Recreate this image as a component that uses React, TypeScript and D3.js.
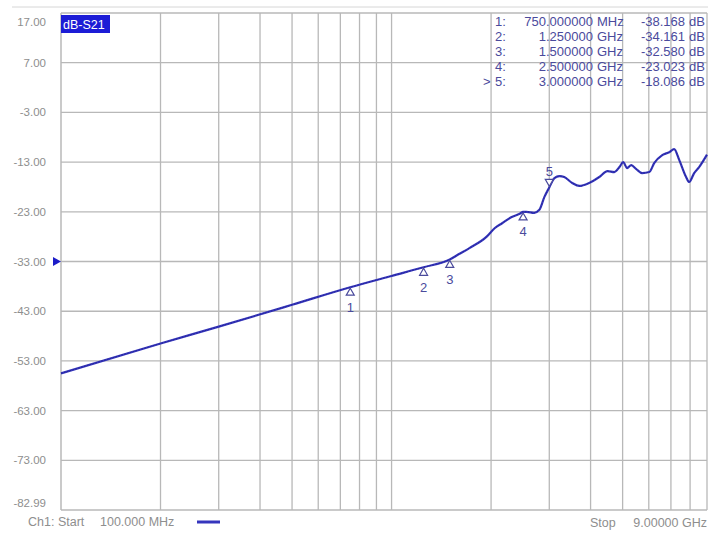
import React from "react";
import * as d3 from "d3";

// ---- Data ----
const traceFreqGHz = [0.1, 0.2, 0.3, 0.5, 0.75, 1.0, 1.25, 1.5, 1.6, 1.72, 1.94, 2.05, 2.16, 2.3, 2.44, 2.5, 2.56, 2.7, 2.8, 2.9, 3.0, 3.11, 3.22, 3.33, 3.52, 3.7, 3.96, 4.25, 4.5, 4.72, 4.89, 5.02, 5.16, 5.31, 5.5, 5.73, 6.02, 6.23, 6.59, 6.92, 7.16, 7.42, 7.78, 7.95, 8.23, 8.52, 9.0];
const traceDb = [-55.5, -49.5, -46.1, -41.7, -38.17, -35.9, -34.16, -32.58, -31.5, -30.3, -28.0, -26.3, -25.3, -24.1, -23.4, -23.02, -23.0, -23.2, -22.6, -20.0, -18.09, -16.2, -15.8, -16.0, -17.2, -17.8, -17.2, -16.0, -14.8, -15.0, -14.0, -13.0, -14.2, -13.6, -14.4, -15.2, -15.0, -13.2, -11.6, -11.0, -10.4, -12.6, -16.0, -17.0, -15.2, -14.0, -11.5];

const markerIds = ["1", "2", "3", "4", "5"];
const markerFreqGHz = [0.75, 1.25, 1.5, 2.5, 3.0];
const markerFreqLabel = ["750.000000", "1.250000", "1.500000", "2.500000", "3.000000"];
const markerUnit = ["MHz", "GHz", "GHz", "GHz", "GHz"];
const markerDb = [-38.168, -34.161, -32.58, -23.023, -18.086];
const activeMarker = 4;

const yTicks = [17, 7, -3, -13, -23, -33, -43, -53, -63, -73, -82.99];
const yTickLabels = ["17.00", "7.00", "-3.00", "-13.00", "-23.00", "-33.00", "-43.00", "-53.00", "-63.00", "-73.00", "-82.99"];
const xGridGHz = [0.2, 0.3, 0.4, 0.5, 0.6, 0.7, 0.8, 0.9, 1, 2, 3, 4, 5, 6, 7, 8];
const refLevelDb = -33;
const traceName = "dB-S21";
const channelLabel = "Ch1: Start";
const startValue = "100.000 MHz";
const stopWord = "Stop";
const stopValue = "9.00000 GHz";

// ---- Layout ----
const W = 708, H = 533;
const L = 61, R = 707, T = 13, B = 510;
const FONT = "'Liberation Sans', Arial, sans-serif";
const GRID = "#b8b8b8";
const LABEL = "#8e8e8e";
const MK = "#4a4a9c";

export default function App() {
  const x = d3.scaleLog().domain([0.1, 9]).range([L, R]);
  const y = d3.scaleLinear().domain([-82.99, 17]).range([B, T]);
  const pts: [number, number][] = traceFreqGHz.map((f, i) => [x(f), y(traceDb[i])]);
  const line = d3.line().curve(d3.curveMonotoneX)(pts) || "";

  return (
    <svg width={W} height={H} style={{ position: "fixed", left: 0, top: 0, background: "#fff" }} fontFamily={FONT}>
      <rect x={0} y={0} width={W} height={H} fill="#fff" />
      {/* outer frame line */}
      <line x1={12} x2={W} y1={7} y2={7} stroke="#d6d6d6" strokeWidth={1} />
      {/* horizontal grid */}
      {yTicks.map((t, i) => (
        <line key={"h" + i} x1={L} x2={R} y1={y(t)} y2={y(t)} stroke={GRID} strokeWidth={1.3} />
      ))}
      {/* vertical grid */}
      {xGridGHz.map((f, i) => (
        <line key={"v" + i} x1={x(f)} x2={x(f)} y1={T} y2={B} stroke={GRID} strokeWidth={1.3} />
      ))}
      <line x1={L} x2={L} y1={T} y2={B} stroke={GRID} strokeWidth={1.5} />
      <line x1={R} x2={R} y1={T} y2={B} stroke={GRID} strokeWidth={1.3} />

      {/* y labels */}
      {yTicks.map((t, i) => {
        let cy = y(t);
        if (i === 0) cy += 9;
        if (i === yTicks.length - 1) cy -= 7;
        return (
          <text key={"yl" + i} x={46} y={cy} textAnchor="end" dominantBaseline="central" fontSize={11.5} fill={LABEL}>
            {yTickLabels[i]}
          </text>
        );
      })}

      {/* reference level marker */}
      <path d={`M${L - 8},${y(refLevelDb) - 4.5} L${L},${y(refLevelDb)} L${L - 8},${y(refLevelDb) + 4.5} Z`} fill="#1c1cc8" />

      {/* trace name box */}
      <rect x={L} y={15} width={49} height={18} fill="#1c1cd6" />
      <text x={L + 2} y={24.5} dominantBaseline="central" fontSize={12.5} fill="#fff">{traceName}</text>

      {/* marker table */}
      {markerIds.map((id, i) => {
        const ry = 21 + i * 15;
        return (
          <g key={"mt" + i} fontSize={13} fill={MK}>
            {i === activeMarker && <text x={483} y={ry} dominantBaseline="central">&gt;</text>}
            <text x={495} y={ry} dominantBaseline="central">{id + ":"}</text>
            <text x={593} y={ry} textAnchor="end" dominantBaseline="central">{markerFreqLabel[i]}</text>
            <text x={597} y={ry} dominantBaseline="central">{markerUnit[i]}</text>
            <text x={685} y={ry} textAnchor="end" dominantBaseline="central">{markerDb[i].toFixed(3)}</text>
            <text x={689} y={ry} dominantBaseline="central">dB</text>
          </g>
        );
      })}

      {/* trace */}
      <path d={line} fill="none" stroke="#3535bd" strokeWidth={2.2} strokeLinejoin="round" />
      <path d={line} fill="none" stroke="#1b1b78" strokeWidth={0.9} strokeDasharray="1.5,1.5" opacity={0.7} />

      {/* markers on trace */}
      {markerIds.map((id, i) => {
        const mx = x(markerFreqGHz[i]);
        const my = y(markerDb[i]);
        if (i === activeMarker) {
          return (
            <g key={"m" + i}>
              <path d={`M${mx - 4},${my - 8} L${mx + 4},${my - 8} L${mx},${my - 1} Z`} fill="#fff" stroke={MK} strokeWidth={1.2} />
              <text x={mx} y={my - 16} textAnchor="middle" dominantBaseline="central" fontSize={13} fill={MK}>{id}</text>
            </g>
          );
        }
        return (
          <g key={"m" + i}>
            <path d={`M${mx},${my + 1} L${mx + 4},${my + 8} L${mx - 4},${my + 8} Z`} fill="#fff" stroke={MK} strokeWidth={1.2} />
            <text x={mx} y={my + 20} textAnchor="middle" dominantBaseline="central" fontSize={13} fill={MK}>{id}</text>
          </g>
        );
      })}

      {/* footer */}
      <text x={28} y={522} dominantBaseline="central" fontSize={12.5} fill={LABEL}>{channelLabel}</text>
      <text x={100} y={522} dominantBaseline="central" fontSize={12.5} fill={LABEL}>{startValue}</text>
      <line x1={197} x2={220} y1={522} y2={522} stroke="#3535bd" strokeWidth={3} />
      <text x={590} y={523} dominantBaseline="central" fontSize={12.5} fill={LABEL}>{stopWord}</text>
      <text x={707} y={523} textAnchor="end" dominantBaseline="central" fontSize={12.5} fill={LABEL}>{stopValue}</text>
    </svg>
  );
}
